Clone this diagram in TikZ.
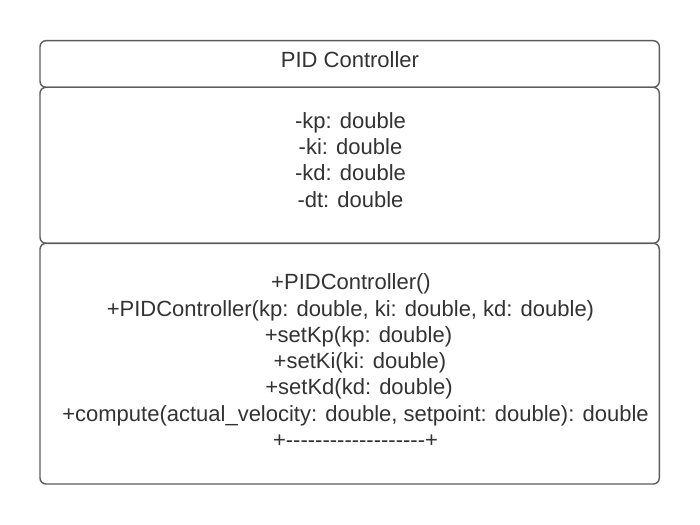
\documentclass[tikz,border=0pt]{standalone}
\usepackage{fontspec}
\setmainfont{Liberation Sans}
\definecolor{boxline}{RGB}{92,92,92}
\definecolor{textcol}{RGB}{51,51,51}
% a hyphen that the TeX ligature mapping leaves alone
\newcommand\plainhy{-\kern0pt}
\begin{document}
\begin{tikzpicture}[x=1pt,y=-1pt,
  compartment/.style={draw=boxline, line width=1.4pt, rounded corners=6pt,
    fill=white, inner sep=0pt, outer sep=0pt},
  member/.style={text=textcol, inner sep=0pt, anchor=base,
    font=\fontsize{22}{26}\selectfont}]
\useasboundingbox (0,0) rectangle (700,524);
\fill[white] (0,0) rectangle (700,524);

% class compartments
\node[compartment, minimum width=619.3pt, minimum height=46.6pt] (namebox) at (349.65,64) {};
\node[compartment, minimum width=619.3pt, minimum height=156pt] (attrbox) at (349.65,165.3) {};
\node[compartment, minimum width=619.3pt, minimum height=240.7pt] (opbox) at (349.65,363.65) {};

% class name
\node[member] (name) at (350,67.7) {PID Controller};

% attributes
\node[member] (kp) at (350.5,128.5) {-kp: double};
\node[member] (ki) at (350.5,154.7) {-ki: double};
\node[member] (kd) at (350.5,180.9) {-kd: double};
\node[member] (dt) at (350.5,207.1) {-dt: double};

% operations
\node[member] (ctor) at (351,289.7) {+PIDController()};
\node[member] (ctorargs) at (350.5,316) {+PIDController(kp: double, ki: double, kd: double)};
\node[member] (setkp) at (358.5,342.3) {+setKp(kp: double)};
\node[member] (setki) at (360,368.6) {+setKi(ki: double)};
\node[member] (setkd) at (359,394.9) {+setKd(kd: double)};
\node[member] (compute) at (355.5,421.2) {+compute(actual\_velocity: double, setpoint: double): double};
\node[member] (rule) at (355.5,447.5) {+\plainhy\plainhy\plainhy\plainhy\plainhy\plainhy\plainhy\plainhy\plainhy\plainhy\plainhy\plainhy\plainhy\plainhy\plainhy\plainhy\plainhy\plainhy\plainhy+};
\end{tikzpicture}
\end{document}
